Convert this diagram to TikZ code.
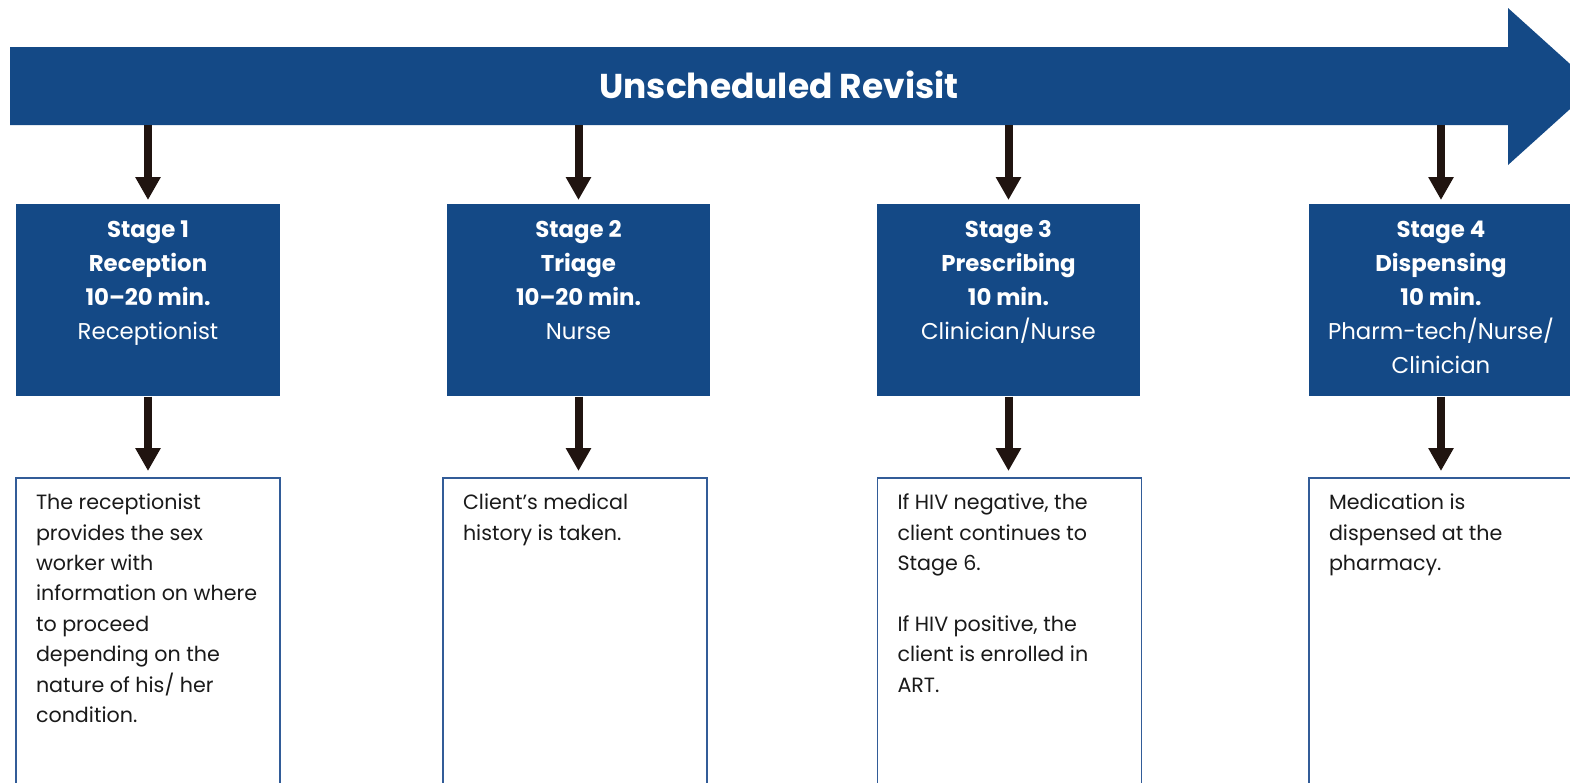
\documentclass[tikz,border=0pt]{standalone}
\usepackage{fontspec}
\setmainfont{Poppins}
\usetikzlibrary{arrows.meta}
\definecolor{azul}{RGB}{20,73,134}
\definecolor{borde}{RGB}{50,92,152}
\definecolor{flecha}{RGB}{32,20,16}
\definecolor{letra}{RGB}{26,26,26}
% cajas de las etapas y de texto
\newcommand{\etapa}[1]{\parbox[c][3.84cm][t]{5.28cm}{\centering\fontsize{13}{19.4}\selectfont\rule{0pt}{0.66cm}#1}}
\newcommand{\texto}[1]{\parbox[c][6.6cm][t]{5.28cm}{\raggedright\leftskip=0.4cm\fontsize{11.75}{17.3}\selectfont\rule{0pt}{0.64cm}#1}}
\tikzset{
  etapabox/.style={fill=azul, text=white, inner sep=0pt, anchor=north},
  textobox/.style={draw=borde, line width=0.85pt, fill=white, text=letra, inner sep=0pt, anchor=north},
  flechita/.style={draw=flecha, line width=0.16cm, -{Triangle[width=0.48cm,length=0.46cm]}}
}
\begin{document}
\begin{tikzpicture}[x=0.02cm, y=-0.02cm]
    		\clip (0,0) rectangle (1570,782);
    		\fill[white] (0,0) rectangle (1570,782);
    		%flecha grande
    		\fill[azul] (10,47) -- (1508,47) -- (1508,8) -- (1595,86.5) -- (1508,165) -- (1508,125) -- (10,125) -- cycle;
    		\node[text=white, font=\bfseries\fontsize{19.6}{24}\selectfont] (titulo) at (779,85) {Unscheduled Revisit};
    		\coordinate (base) at (0,125);

  		%%%% ETAPAS
  		\node[etapabox] at (148,204) (etapa1) {\etapa{\textbf{Stage 1}\\ \textbf{Reception}\\ \textbf{10--20 min.}\\ Receptionist}};
  		\node[etapabox] at (578.5,204) (etapa2) {\etapa{\textbf{Stage 2}\\ \textbf{Triage}\\ \textbf{10--20 min.}\\ Nurse}};
  		\node[etapabox] at (1008.5,204) (etapa3) {\etapa{\textbf{Stage 3}\\ \textbf{Prescribing}\\ \textbf{10 min.}\\ Clinician/Nurse}};
  		\node[etapabox] at (1441,204) (etapa4) {\etapa{\textbf{Stage 4}\\ \textbf{Dispensing}\\ \textbf{10 min.}\\ Pharm-tech/Nurse/\\ Clinician}};

  		%cajas de texto
  		\node[textobox] at (148,477) (texto1) {\texto{The receptionist\\ provides the sex\\ worker with\\ information on where\\ to proceed\\ depending on the\\ nature of his/ her\\ condition.}};
  		\node[textobox] at (575,477) (texto2) {\texto{Client’s medical\\ history is taken.}};
  		\node[textobox] at (1009.5,477) (texto3) {\texto{If HIV negative, the\\ client continues to\\ Stage 6.\\[17.3pt] If HIV positive, the\\ client is enrolled in\\ ART.}};
  		\node[textobox] at (1441,477) (texto4) {\texto{Medication is\\ dispensed at the\\ pharmacy.}};

  		%flechas
  		\foreach \i in {1,...,4} {
  		  \draw [flechita, shorten >=0.08cm] (etapa\i.north |- base) -- (etapa\i.north);
  		  \draw [flechita, shorten >=0.12cm] (etapa\i.south) -- (etapa\i.south |- texto\i.north);
  		}
		\end{tikzpicture}
\end{document}
